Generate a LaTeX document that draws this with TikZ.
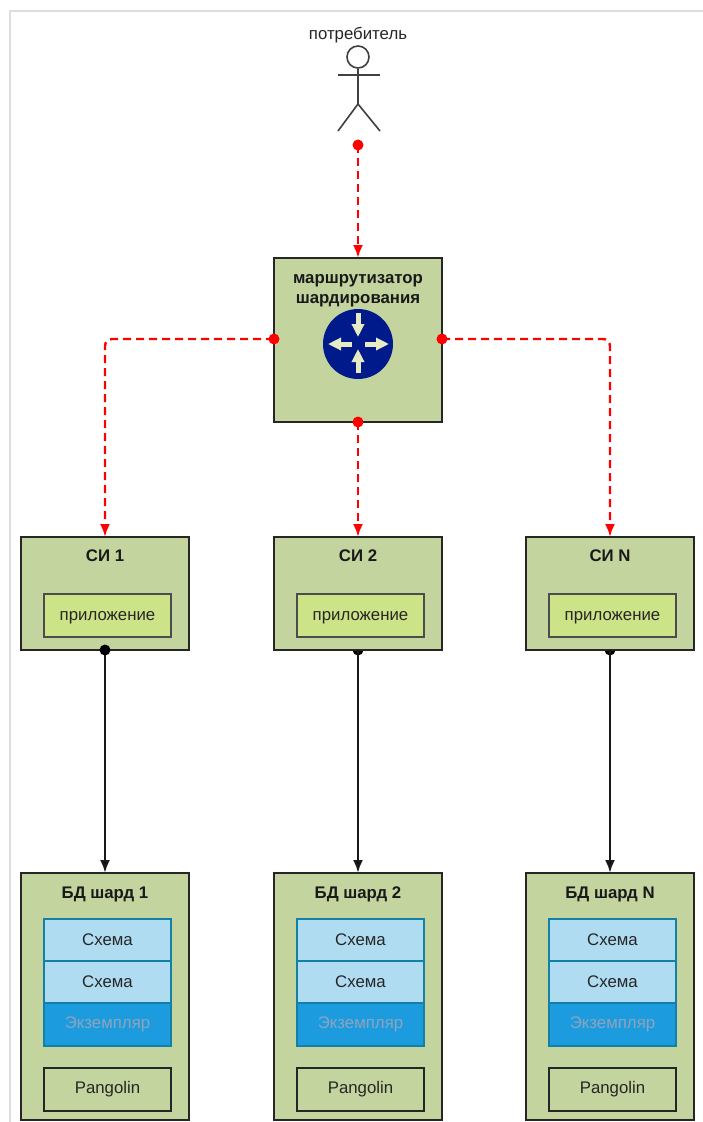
\documentclass[tikz,border=0pt]{standalone}
\usepackage{fontspec}
\setmainfont{Liberation Sans}
\usetikzlibrary{arrows.meta}
\pgfdeclarelayer{under}
\pgfsetlayers{under,main}
\definecolor{boxgreen}{HTML}{C4D49E}
\definecolor{appgreen}{HTML}{CDE388}
\definecolor{schemablue}{HTML}{B0DCF1}
\definecolor{instblue}{HTML}{1C9CDF}
\definecolor{edgeblue}{HTML}{1380A8}
\definecolor{routerblue}{HTML}{001A8C}
\definecolor{arrowcream}{HTML}{E6EBC3}
\definecolor{framegray}{HTML}{DDDDDD}
\definecolor{dbtext}{HTML}{8FA3BC}
\tikzset{
  x=1pt,y=-1pt,
  txt/.style={font=\fontsize{16.8}{20}\selectfont,text=black!85,inner sep=0pt,align=center},
  btxt/.style={font=\fontsize{16.8}{20}\selectfont\bfseries,text=black!90,inner sep=0pt,align=center},
  outerbox/.style={draw=black!85,line width=2pt,fill=boxgreen,minimum width=168pt,inner sep=0pt,outer sep=0pt},
  appbox/.style={draw=black!70,line width=2pt,fill=appgreen,minimum width=127pt,minimum height=43pt,inner sep=0pt,outer sep=0pt,txt},
  pangbox/.style={draw=black!85,line width=2pt,fill=boxgreen,minimum width=127pt,minimum height=43pt,inner sep=0pt,outer sep=0pt,txt},
  schemabox/.style={draw=edgeblue,line width=1.5pt,fill=schemablue,minimum width=127pt,minimum height=42pt,inner sep=0pt,outer sep=0pt,txt},
  instbox/.style={draw=edgeblue,line width=1.5pt,fill=instblue,minimum width=127pt,minimum height=43pt,inner sep=0pt,outer sep=0pt,txt,text=dbtext},
  reddash/.style={draw=red,line width=2.4pt,dash pattern=on 8pt off 5pt,-{Latex[length=13pt,width=10pt,fill=red]},rounded corners=7pt},
  blackline/.style={draw=black!90,line width=2.4pt,-{Latex[length=13pt,width=10pt,fill=black]}},
  reddot/.style={circle,fill=red,minimum size=11pt,inner sep=0pt},
  blackdot/.style={circle,fill=black,minimum size=11pt,inner sep=0pt},
  person/.style={draw=black!75,line width=1.6pt},
  whitearrow/.style={draw=arrowcream,line width=5pt,-{Triangle[length=13pt,width=12pt,fill=arrowcream]}}
}
\newcommand{\shardcol}[3]{% center x, name, label
  \node[outerbox,minimum height=113pt] (si#2) at (#1,593.5) {};
  \node[btxt] (sit#2) at (#1,556) {СИ #3};
  \node[appbox] (app#2) at (#1+2.5,615.5) {\raisebox{-2pt}[\height][\depth]{приложение}};
  \node[outerbox,minimum height=247pt] (db#2) at (#1,996.5) {};
  \node[btxt] (dbt#2) at (#1,894.5) {БД шард #3};
  \node[schemabox] (sa#2) at (#1+2.5,940) {Схема};
  \node[schemabox] (sb#2) at (#1+2.5,982) {Схема};
  \node[instbox] (in#2) at (#1+2.5,1024.5) {Экземпляр};
  \node[pangbox] (pg#2) at (#1+2.5,1089.5) {Pangolin};
}
\begin{document}
\begin{tikzpicture}
\useasboundingbox (0,0) rectangle (703,1122);
\begin{pgfonlayer}{under}
\fill[white] (0,0) rectangle (703,1122);
\draw[framegray,line width=2pt] (10,1122) -- (10,11) -- (703,11);
\end{pgfonlayer}

% user
\node[txt] (usertext) at (358,35) {потребитель};
\node[circle,draw=black!75,line width=1.6pt,minimum size=22pt,inner sep=0pt] (head) at (358,57) {};
\coordinate (hip) at (358,104);
\draw[person] (head.south) -- (hip);
\draw[person] (338,75) -- (380,75);
\draw[person] (338,131) -- (hip) -- (380,131);

% boxes
\node[outerbox,minimum height=164pt] (router) at (358,340) {};
\node[btxt] (rtext) at (358,290.5) {маршрутизатор\\шардирования};
\shardcol{105}{1}{1}
\shardcol{358}{2}{2}
\shardcol{610}{3}{N}

% router icon
\node[circle,fill=routerblue,minimum size=70pt,inner sep=0pt] (icon) at (358,344) {};
\draw[whitearrow] (358,313) -- (358,337);
\draw[whitearrow] (358,373) -- (358,349);
\draw[whitearrow] (352,344) -- (328,344);
\draw[whitearrow] (365,344) -- (389,344);

% connectors
\coordinate (ustart) at (358,145);
\draw[reddash] (ustart) -- (router.north);
\draw[reddash] (router.west |- 0,339) -| (si1.north);
\draw[reddash] (router.east |- 0,339) -| (si3.north);
\draw[reddash] (router.south) -- (si2.north);
\node[reddot] (d0) at (ustart) {};
\node[reddot] (d1) at (router.west |- 0,339) {};
\node[reddot] (d2) at (router.east |- 0,339) {};
\node[reddot] (d3) at (router.south) {};
\draw[blackline] (si1.south) -- (db1.north);
\draw[blackline] (si2.south) -- (db2.north);
\draw[blackline] (si3.south) -- (db3.north);
\node[blackdot] (b1) at (si1.south) {};
\begin{pgfonlayer}{under}
\node[blackdot] (b2) at (si2.south) {};
\node[blackdot] (b3) at (si3.south) {};
\end{pgfonlayer}
\end{tikzpicture}
\end{document}
